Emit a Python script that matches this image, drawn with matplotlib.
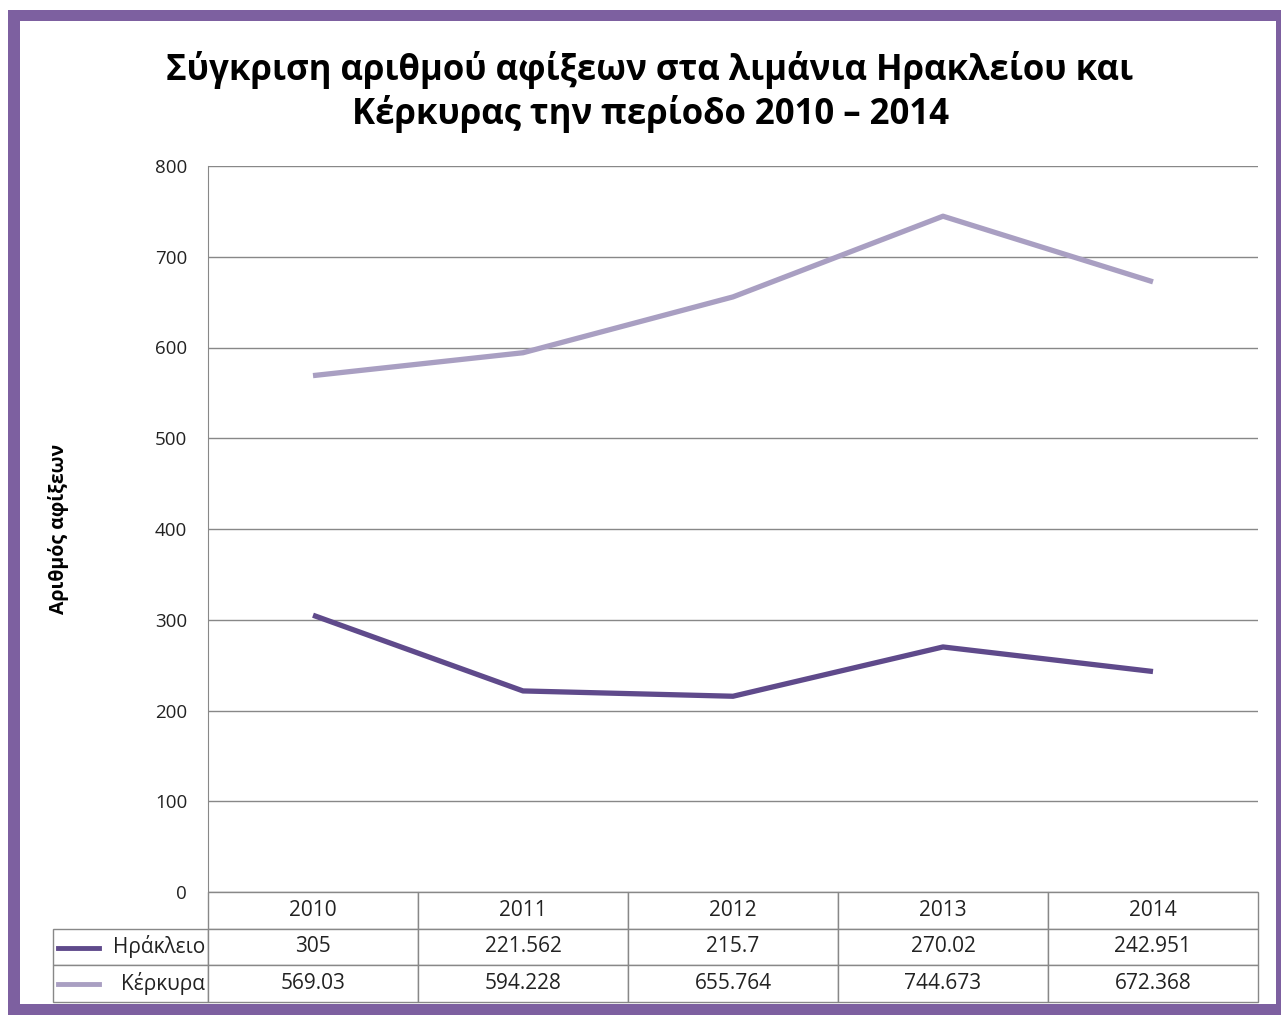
import numpy as np
import matplotlib.pyplot as plt
from matplotlib.patches import Rectangle
from matplotlib.lines import Line2D

plt.rcParams['font.family'] = ['Open Sans', 'DejaVu Sans']

years = ['2010', '2011', '2012', '2013', '2014']
series_names = ['Ηράκλειο', 'Κέρκυρα']
heraklio = [305, 221.562, 215.7, 270.02, 242.951]
kerkyra = [569.03, 594.228, 655.764, 744.673, 672.368]
heraklio_txt = ['305', '221.562', '215.7', '270.02', '242.951']
kerkyra_txt = ['569.03', '594.228', '655.764', '744.673', '672.368']
colors = ['#5F4A8B', '#A99FC2']

W, H = 1281, 1015
fig = plt.figure(figsize=(W/100, H/100), dpi=100)

# purple frame
purple = '#7D60A0'
for (x0, y0, w, h) in [(8, 10, 12, 995), (8, 10, 1273, 11), (8, 1004, 1273, 11), (1276, 10, 5, 1005)]:
    fig.add_artist(Rectangle((x0/W, 1-(y0+h)/H), w/W, h/H, transform=fig.transFigure,
                             facecolor=purple, edgecolor='none'))

ax = fig.add_axes([208/W, 1-892/H, 1050/W, 726/H])
x = np.arange(len(years))
ax.plot(x, heraklio, color=colors[0], lw=3.8, solid_capstyle='butt')
ax.plot(x, kerkyra, color=colors[1], lw=3.8, solid_capstyle='butt')
ax.set_xlim(-0.5, 4.5)
ax.set_ylim(0, 800)
ax.set_yticks(range(0, 801, 100))
ax.set_xticks([])
ax.tick_params(axis='y', length=0, pad=15, labelsize=13.5, labelcolor='#222222')
ax.grid(axis='y', color='#888888', lw=1)
ax.set_axisbelow(True)
for s in ['top', 'right', 'bottom']:
    ax.spines[s].set_visible(False)
ax.spines['left'].set_color('#888888')

ax.set_ylabel('Αριθμός αφίξεων', fontsize=14, fontweight='bold')
ax.yaxis.set_label_coords((69-208)/1050, 0.5)

# data table
cell_text = [[''] + heraklio_txt, [''] + kerkyra_txt]
tab = ax.table(cellText=cell_text, colLabels=[''] + years,
               colWidths=[155/1205] + [210/1205]*5, cellLoc='center',
               bbox=[(53-208)/1050, (892-1002)/726, 1205/1050, 110/726])
tab.auto_set_font_size(False)
tab.set_fontsize(15)
for (r, c), cell in tab.get_celld().items():
    cell.set_edgecolor('#888888')
    cell.set_linewidth(1)
    cell.get_text().set_color('#222222')
tab[0, 0].visible_edges = ''
for i, name in enumerate(series_names):
    tab[i+1, 0].get_text().set_text(name)
    tab[i+1, 0].get_text().set_ha('right')
    tab[i+1, 0]._loc = 'right'
    tab[i+1, 0].PAD = 0.02
    yc = (892 - (948 + 36*i))/726
    ax.add_line(Line2D([(58-208)/1050, (99-208)/1050], [yc, yc], transform=ax.transAxes,
                       color=colors[i], lw=3.5, clip_on=False))

fig.text(650/W, 1-92/H, 'Σύγκριση αριθμού αφίξεων στα λιμάνια Ηρακλείου και\nΚέρκυρας την περίοδο 2010 – 2014',
         ha='center', va='center', fontsize=25, fontweight='bold', linespacing=1.2)

fig.savefig('out.png', dpi=100)
